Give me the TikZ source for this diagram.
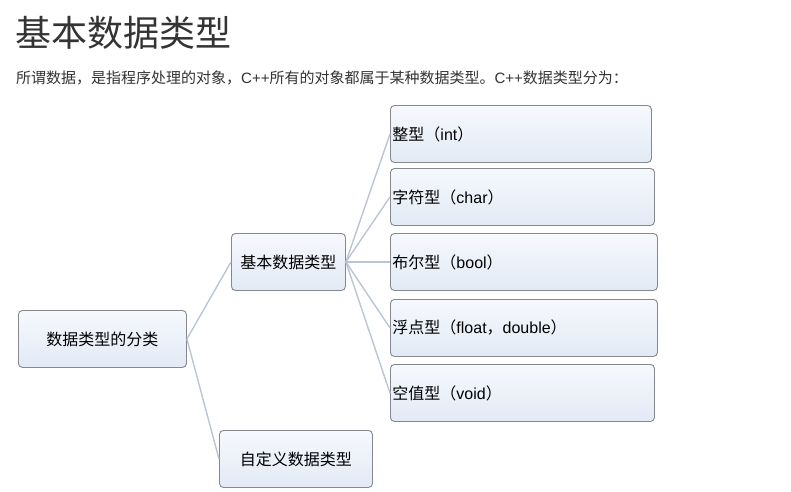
\documentclass[tikz,border=0pt]{standalone}
\usepackage{fontspec}
\setmainfont{Liberation Sans}
\newfontfamily\cjk{Noto Sans CJK SC}
\usetikzlibrary{positioning}
\definecolor{boxborder}{HTML}{85888D}
\definecolor{boxtop}{HTML}{F6F8FC}
\definecolor{boxbot}{HTML}{E2EAF6}
\definecolor{linkcol}{HTML}{B9C5D9}
\definecolor{titlecol}{HTML}{333333}
\tikzset{
  box/.style={draw=boxborder, line width=0.9pt, rounded corners=4pt,
    top color=boxtop, bottom color=boxbot, anchor=north west,
    inner sep=0pt, font=\fontsize{16}{19}\selectfont, text=black},
  leafbox/.style={box, align=left, inner xsep=2pt, minimum height=57pt},
  link/.style={draw=linkcol, line width=1.4pt}
}
\begin{document}
\begin{tikzpicture}[x=1pt,y=-1pt]
\useasboundingbox (0,0) rectangle (791,491);
\node[anchor=west, text=titlecol, font=\fontsize{36}{40}\selectfont\cjk, inner sep=0pt] (title) at (15,33) {基本数据类型};
\node[anchor=west, text=titlecol, font=\fontsize{15}{17}\selectfont, inner sep=0pt] (intro) at (16,78) {{\cjk 所谓数据，是指程序处理的对象，}C++{\cjk 所有的对象都属于某种数据类型。}C++{\cjk 数据类型分为：}};

\node[box, font=\fontsize{16}{19}\selectfont\cjk, minimum width=168pt, minimum height=57pt] (root) at (18,310) {数据类型的分类};
\node[box, font=\fontsize{16}{19}\selectfont\cjk, minimum width=114pt, minimum height=57pt] (basic) at (231,233) {基本数据类型};
\node[box, font=\fontsize{16}{19}\selectfont\cjk, minimum width=153pt, minimum height=57pt] (custom) at (219,430) {自定义数据类型};

\node[leafbox, text width=257pt] (int) at (390,105) {{\cjk 整型（}int{\cjk ）}};
\node[leafbox, text width=260pt] (char) at (390,168) {{\cjk 字符型（}char{\cjk ）}};
\node[leafbox, text width=263pt] (bool) at (390,233) {{\cjk 布尔型（}bool{\cjk ）}};
\node[leafbox, text width=263pt] (float) at (390,299) {{\cjk 浮点型（}float{\cjk ，}double{\cjk ）}};
\node[leafbox, text width=260pt] (void) at (390,364) {{\cjk 空值型（}void{\cjk ）}};

\draw[link] (root.east) -- (basic.west);
\draw[link] (root.east) -- (custom.west);
\foreach \n in {int,char,bool,float,void}{
  \draw[link] (basic.east) -- (\n.west);
}
\end{tikzpicture}
\end{document}
